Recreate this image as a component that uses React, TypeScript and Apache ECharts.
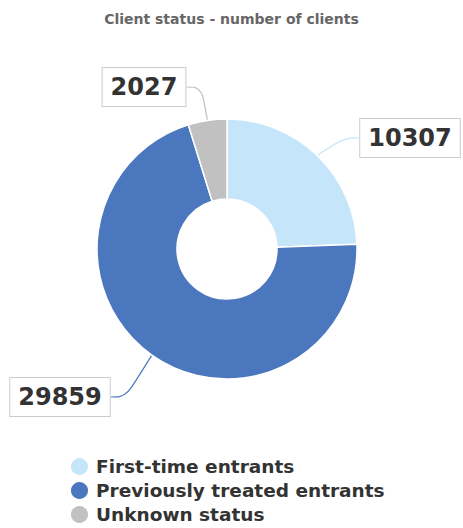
import React, { useEffect, useRef } from "react";
import * as echarts from "echarts";

const categories = ["First-time entrants", "Previously treated entrants", "Unknown status"];
const values = [10307, 29859, 2027];
const colors = ["#c5e5fa", "#4a77bd", "#c1c1c1"];
const titleText = "Client status - number of clients";

const labelPositions = [
  { x: 410, y: 138 },
  { x: 60, y: 397 },
  { x: 144, y: 87 },
];

const FONT = "DejaVu Sans";

export default function App() {
  const ref = useRef<HTMLDivElement>(null);
  useEffect(() => {
    if (!ref.current) return;
    const chart = echarts.init(ref.current, null, { renderer: "svg" });
    chart.setOption({
      animation: false,
      backgroundColor: "#ffffff",
      title: {
        text: titleText,
        left: "center",
        top: 7,
        textStyle: { fontFamily: FONT, fontSize: 14, fontWeight: "bold", color: "#666666" },
      },
      legend: {
        orient: "vertical",
        left: 69,
        top: 456,
        height: 150,
        padding: 0,
        icon: "circle",
        itemWidth: 19,
        itemHeight: 19,
        itemGap: 3,
        data: categories,
        textStyle: {
          fontFamily: FONT,
          fontSize: 18.5,
          lineHeight: 19,
          fontWeight: "bold",
          color: "#333333",
          padding: [0, 0, 0, 2],
        },
      },
      series: [
        {
          type: "pie",
          center: [227, 249],
          radius: [50, 130],
          startAngle: 90,
          clockwise: true,
          itemStyle: { borderColor: "#ffffff", borderWidth: 1.5 },
          label: {
            show: true,
            formatter: "{c}",
            fontFamily: FONT,
            fontSize: 24,
            fontWeight: "bold",
            color: "#333333",
            backgroundColor: "#ffffff",
            borderColor: "#cccccc",
            borderWidth: 1,
            padding: [8, 8, 6, 8],
          },
          labelLine: { show: true, smooth: 0.4, length: 20, length2: 15, lineStyle: { width: 1.2 } },
          labelLayout: (params: any) => {
            const p = labelPositions[params.dataIndex];
            return { x: p.x, y: p.y, align: "center", verticalAlign: "middle" };
          },
          data: categories.map((name, i) => ({
            name,
            value: values[i],
            itemStyle: { color: colors[i] },
          })),
        },
      ],
    });
    return () => chart.dispose();
  }, []);
  return <div ref={ref} style={{ position: "fixed", left: 0, top: 0, width: 463, height: 528 }} />;
}
